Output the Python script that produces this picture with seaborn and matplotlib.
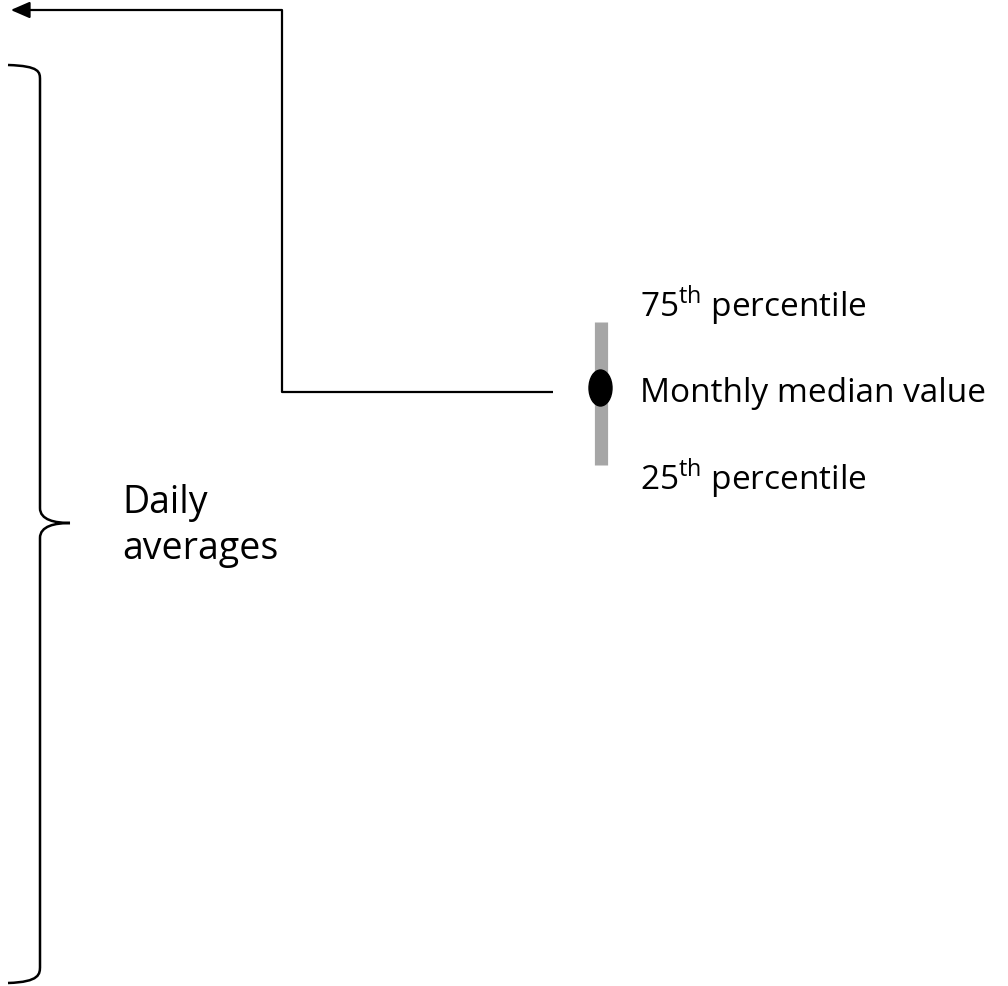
import seaborn as sns
import pandas as pd
import matplotlib.pyplot as plt
from matplotlib.path import Path
from matplotlib.patches import PathPatch, Ellipse

# legend key: what a monthly marker means
percentile_labels = ['75$^{\\mathrm{th}}$ percentile', 'Monthly median value', '25$^{\\mathrm{th}}$ percentile']
label_y = [305, 393, 478]
bar_y = [322, 465]          # 25th..75th spread (pixel space)
median_y = 388
brace_label = 'Daily\naverages'

sns.set_style('white')
plt.rcParams['font.family'] = ['Open Sans', 'DejaVu Sans']
plt.rcParams['mathtext.fontset'] = 'custom'
plt.rcParams['mathtext.rm'] = 'Open Sans'

fig = plt.figure(figsize=(10.08, 9.86), dpi=100)
ax = fig.add_axes([0, 0, 1, 1])

# grey bar and median dot
bar = pd.DataFrame({'x': [600.5, 600.5], 'y': bar_y})
sns.lineplot(data=bar, x='x', y='y', orient='y', color='#a6a6a6', linewidth=9.5,
             solid_capstyle='butt', ax=ax)
ax.add_patch(Ellipse((600.5, median_y), 23, 36, color='black', zorder=5))
ax.set_xlim(0, 1008)
ax.set_ylim(986, 0)
ax.axis('off')

# connector line to the top arrow
ax.plot([553, 282, 282, 20], [392, 392, 10, 10], color='black', lw=1.6, solid_capstyle='butt')
ax.annotate('', xy=(8, 10), xytext=(30, 10),
            arrowprops=dict(arrowstyle='-|>,head_length=1.15,head_width=0.5', color='black', lw=1.6))

for t, y in zip(percentile_labels, label_y):
    ax.text(640, y, t, fontsize=24, va='center', ha='left', color='black')

# curly brace
verts = [(8, 65), (40, 66), (40, 72), (40, 80),
         (40, 508),
         (40, 520), (55, 523), (70, 523),
         (55, 523), (40, 526), (40, 538),
         (40, 966),
         (40, 974), (40, 982), (8, 983)]
codes = [Path.MOVETO, Path.CURVE4, Path.CURVE4, Path.CURVE4,
         Path.LINETO,
         Path.CURVE4, Path.CURVE4, Path.CURVE4,
         Path.CURVE4, Path.CURVE4, Path.CURVE4,
         Path.LINETO,
         Path.CURVE4, Path.CURVE4, Path.CURVE4]
ax.add_patch(PathPatch(Path(verts, codes), fill=False, lw=1.8, color='black'))

ax.text(122, 526, brace_label, fontsize=27, va='center', ha='left', linespacing=1.3, color='black')

fig.savefig('out.png', dpi=100)
